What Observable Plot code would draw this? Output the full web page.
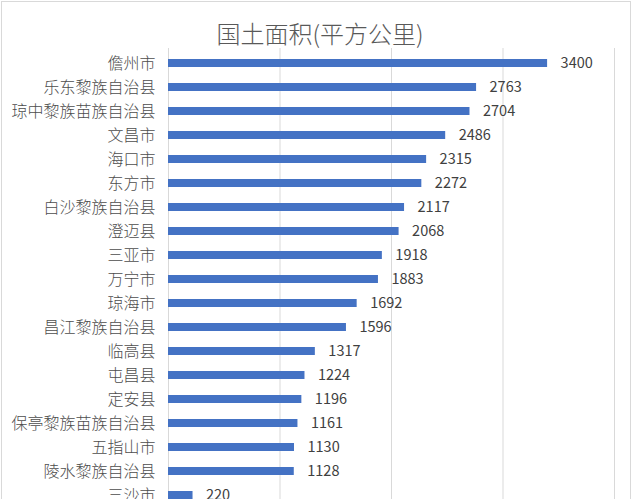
<!DOCTYPE html>
<html>
<head>
<meta charset="utf-8">
<script src="https://cdn.jsdelivr.net/npm/d3@7"></script>
<script src="https://cdn.jsdelivr.net/npm/@observablehq/plot@0.6"></script>
<style>
  html, body { margin: 0; padding: 0; background: #fff; }
  #wrap { position: relative; width: 640px; height: 499px; overflow: hidden; background: #fff; }
  #frame { position: absolute; left: 1px; top: 1px; width: 630px; height: 520px; border: 1px solid #d9d9d9; box-sizing: border-box; }
  #title { position: absolute; left: 0; top: 19px; width: 640px; text-align: center;
           font-family: "Noto Sans CJK SC", sans-serif; font-weight: 300; font-size: 24px; line-height: 28px; color: #595959; }
  #chart { position: absolute; left: 0; top: 44px; }
</style>
</head>
<body>
<div id="wrap">
  <div id="frame"></div>
  <div id="title">国土面积(平方公里)</div>
  <div id="chart"></div>
</div>
<script>
const names = ["儋州市","乐东黎族自治县","琼中黎族苗族自治县","文昌市","海口市","东方市","白沙黎族自治县","澄迈县","三亚市","万宁市","琼海市","昌江黎族自治县","临高县","屯昌县","定安县","保亭黎族苗族自治县","五指山市","陵水黎族自治县","三沙市"];
const areas = [3400,2763,2704,2486,2315,2272,2117,2068,1918,1883,1692,1596,1317,1224,1196,1161,1130,1128,220];
const gridTicks = [0,1000,2000,3000,4000];

const data = names.map((n, i) => ({name: n, value: areas[i]}));
const rowStep = 24.33;
const topPad = 4;

const chart = Plot.plot({
  width: 640,
  height: 480,
  marginLeft: 168,
  marginRight: 26,
  marginTop: topPad,
  marginBottom: 480 - topPad - rowStep * names.length,
  style: {fontFamily: "Noto Sans CJK SC, sans-serif", color: "#4d4d4d", background: "transparent"},
  x: {domain: [0, 4000], axis: null},
  y: {domain: names, range: [topPad, topPad + rowStep * names.length], paddingInner: 0.68, paddingOuter: 0.34, axis: null},
  marks: [
    Plot.ruleX(gridTicks, {stroke: "#d9d9d9", strokeWidth: 1}),
    Plot.barX(data, {x: "value", y: "name", fill: "#4472c4"}),
    Plot.text(data, {x: "value", y: "name", text: d => String(d.value), dx: 13, textAnchor: "start", fontSize: 14.5, fill: "#404040"}),
    Plot.axisY({tickSize: 0, tickPadding: 13, fontSize: 16, fontWeight: 300, label: null})
  ]
});
document.getElementById("chart").appendChild(chart);
</script>
</body>
</html>
